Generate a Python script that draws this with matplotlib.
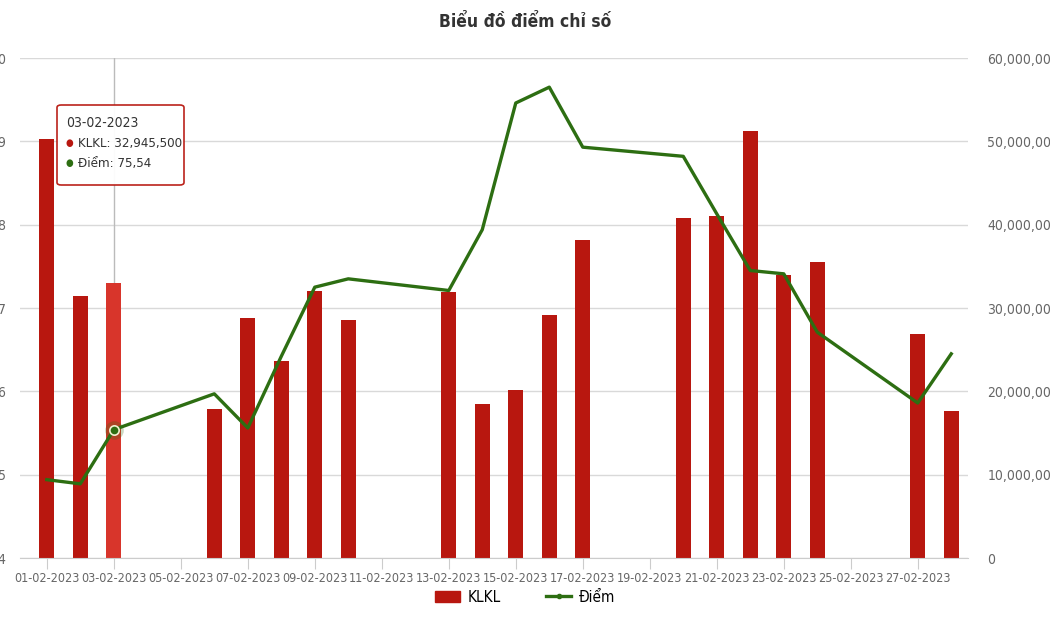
import matplotlib.pyplot as plt
from matplotlib.patches import FancyBboxPatch
from matplotlib.lines import Line2D
from matplotlib.patches import Patch
from matplotlib.ticker import FuncFormatter

plt.rcParams['font.family'] = ['DejaVu Sans']
plt.rcParams['font.stretch'] = 'condensed'

# trading days in Feb 2023
days = [1, 2, 3, 6, 7, 8, 9, 10, 13, 14, 15, 16, 17, 20, 21, 22, 23, 24, 27, 28]
klkl = [50300000, 31400000, 32945500, 17900000, 28800000, 23600000, 32000000,
        28600000, 31900000, 18500000, 20200000, 29200000, 38200000, 40800000,
        41000000, 51200000, 34000000, 35500000, 26900000, 17600000]
diem = [74.94, 74.89, 75.54, 75.97, 75.56, 76.42, 77.25, 77.35, 77.21, 77.94,
        79.46, 79.65, 78.93, 78.82, 78.13, 77.45, 77.41, 76.71, 75.86, 76.45]
tick_days = list(range(1, 29, 2))
tick_labels = ["%02d-02-2023" % d for d in tick_days]
hover = 2  # index of 03-02-2023

bar_color = "#b8170f"
line_color = "#2d6e12"
grid_color = "#d9d9d9"
text_color = "#666666"

fig = plt.figure(figsize=(10.5, 6.3), dpi=100)
ax = fig.add_axes([20 / 1050, 1 - 558 / 630, 948 / 1050, 500 / 630])
ax2 = ax.twinx()

# bars on the right axis
colors = [bar_color] * len(days)
colors[hover] = "#d8352b"
ax.bar(days, klkl, width=0.45, color=colors, zorder=2)
ax.set_ylim(0, 60000000)
ax.set_yticks(range(0, 60000001, 10000000))
ax.yaxis.tick_right()
ax.yaxis.set_major_formatter(FuncFormatter(lambda v, p: "{:,.0f}".format(v)))
ax.tick_params(axis="y", length=0, pad=14, labelsize=10, labelcolor=text_color)
ax.grid(axis="y", color=grid_color, linewidth=1, zorder=0)
ax.set_axisbelow(True)
ax.set_xlim(0.2, 28.5)
ax.set_xticks(tick_days)
ax.set_xticklabels(tick_labels)
ax.tick_params(axis="x", length=8, color="#cccccc", labelsize=9,
               labelcolor=text_color, pad=2)
for s in ["top", "left", "right"]:
    ax.spines[s].set_visible(False)
ax.spines["bottom"].set_color("#cccccc")

# hover crosshair
ax.axvline(days[hover], color="#bbbbbb", linewidth=1, zorder=1)

# line on the left axis
ax2.plot(days, diem, color=line_color, linewidth=2.4, zorder=3)
ax2.scatter([days[hover]], [diem[hover]], s=180, color=line_color, alpha=0.25,
            zorder=4, linewidths=0)
ax2.scatter([days[hover]], [diem[hover]], s=45, color=line_color,
            edgecolors="#f0f0d0", linewidths=1.2, zorder=5)
ax2.set_ylim(74, 80)
ax2.set_yticks(range(74, 81))
ax2.yaxis.tick_left()
ax2.tick_params(axis="y", length=0, pad=10, labelsize=10, labelcolor=text_color)
for s in ax2.spines.values():
    s.set_visible(False)

fig.text(0.5, 1 - 22 / 630, "Biểu đồ điểm chỉ số", ha="center", va="center",
         fontsize=12.5, fontweight="bold", color="#333333")

# tooltip
box = FancyBboxPatch((57 / 1050, 1 - 185 / 630), 127 / 1050, 80 / 630,
                     boxstyle="round,pad=0,rounding_size=0.004",
                     transform=fig.transFigure, facecolor="white", alpha=0.95,
                     edgecolor="#b8170f", linewidth=1.2, zorder=10)
fig.add_artist(box)
fig.text(66 / 1050, 1 - 123 / 630, "%02d-02-2023" % days[hover], fontsize=10,
         color="#333333", va="center", zorder=11)
fig.text(66 / 1050, 1 - 143 / 630, "●", fontsize=7, color=bar_color,
         va="center", zorder=11)
fig.text(78 / 1050, 1 - 143 / 630, "KLKL: {:,}".format(klkl[hover]),
         fontsize=9.5, color="#333333", va="center", zorder=11)
fig.text(66 / 1050, 1 - 163 / 630, "●", fontsize=7, color=line_color,
         va="center", zorder=11)
fig.text(78 / 1050, 1 - 163 / 630,
         "Điểm: " + ("%.2f" % diem[hover]).replace(".", ","),
         fontsize=9.5, color="#333333", va="center", zorder=11)

handles = [Patch(color=bar_color, label="KLKL"),
           Line2D([0], [0], color=line_color, linewidth=2.4, marker="o",
                  markersize=3, label="Điểm")]
fig.legend(handles=handles, loc="center", bbox_to_anchor=(0.5, 1 - 597 / 630),
           ncol=2, frameon=False, fontsize=11, handlelength=1.6,
           columnspacing=3, handletextpad=0.5)

plt.savefig("out.png")
